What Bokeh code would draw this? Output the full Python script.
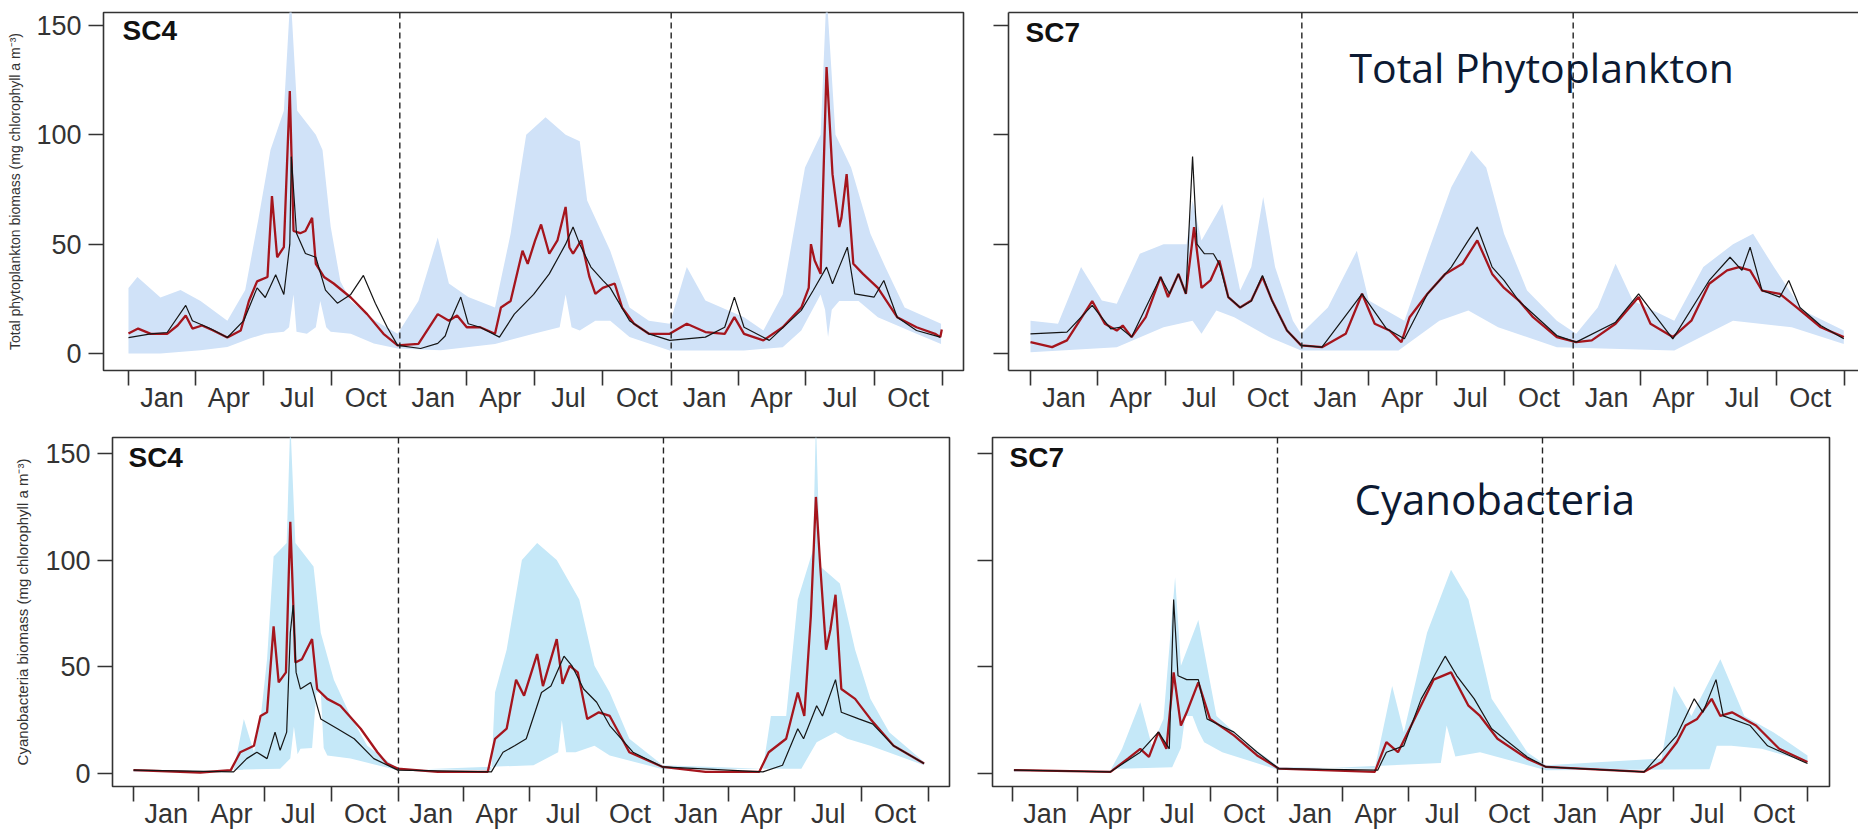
from bokeh.plotting import figure
from bokeh.models import Range1d, FixedTicker, Span, Label, LinearAxis
from bokeh.layouts import column, row
from bokeh.embed import file_html
from bokeh.resources import INLINE

# ---------------- axis definitions ----------------
month_labels = ["Jan", "Apr", "Jul", "Oct"]
quarter_start_days = [0, 90, 181, 273]
quarter_mid_days = [45, 135, 227, 319]
n_years = 3
year_len = 365
year_bounds = [365, 730]
y_ticks = [0, 50, 100, 150]

# ---------------- SC4 total phytoplankton ----------------
sc4_tot_red_day = [0, 13, 30, 52, 66, 77, 86, 99, 114, 133, 151, 162, 173, 187, 193, 200, 209, 217, 222, 231, 238, 247, 252, 263, 276, 299, 321, 343, 362, 390, 416, 431, 442, 455, 473, 493, 501, 514, 530, 537, 547, 555, 566, 577, 588, 593, 598, 609, 620, 628, 638, 654, 664, 680, 700, 728, 751, 776, 802, 815, 828, 854, 880, 905, 915, 918, 923, 931, 939, 947, 956, 959, 966, 975, 988, 1008, 1034, 1060, 1085, 1092, 1094]
sc4_tot_red_val = [9.1, 11.4, 9, 9, 12.8, 17.4, 11.4, 12.8, 10.5, 7.3, 10.5, 24, 33, 35, 72, 44, 48.6, 120, 56, 55, 56, 62, 41, 35, 32, 25.6, 18, 9, 3.7, 4.4, 18, 15, 17.4, 12, 12, 9, 21, 24, 47, 41, 51.7, 59, 45.6, 51.7, 67, 48.6, 45.6, 51.7, 35, 27.3, 30, 32, 21, 13.6, 9, 9, 13.6, 9.8, 9, 16.6, 9, 6, 12, 21, 30, 50, 42.5, 36.4, 131, 82, 57.8, 62, 82, 41, 36.4, 30, 16.6, 12, 9, 7.5, 11]
sc4_tot_blk_day = [0, 30, 52, 77, 86, 110, 133, 155, 173, 184, 198, 209, 217, 219, 226, 238, 252, 265, 281, 299, 316, 332, 348, 362, 393, 416, 426, 433, 447, 457, 473, 499, 519, 545, 566, 588, 598, 607, 622, 638, 648, 674, 700, 728, 776, 802, 815, 828, 862, 905, 921, 939, 947, 956, 967, 977, 1003, 1016, 1034, 1060, 1092]
sc4_tot_blk_val = [7.3, 9, 9.6, 22, 15, 11.4, 7.3, 15, 30, 25.6, 36, 27, 50, 90, 55, 45.7, 44, 29, 23, 27, 35.7, 23, 12, 3.7, 2.3, 4.6, 8, 15, 25.8, 13.6, 12, 7.5, 18, 27, 36.4, 50, 57.8, 50, 39.5, 33.4, 30, 15, 9, 6, 7.5, 12, 25.8, 12, 6, 19.7, 28.8, 39.5, 31.9, 39.5, 48.6, 27.3, 25.8, 33.4, 16.6, 10.5, 7.5]
sc4_tot_hi_day = [0, 12, 43, 70, 97, 133, 157, 175, 191, 209, 218, 227, 252, 261, 272, 285, 299, 332, 362, 390, 416, 431, 457, 493, 514, 535, 561, 588, 607, 617, 648, 674, 700, 728, 751, 776, 828, 854, 880, 910, 931, 939, 951, 972, 998, 1018, 1044, 1093]
sc4_tot_hi_val = [30, 35, 25.6, 29, 24, 15, 29, 62, 93, 111, 165, 111, 100, 93, 58, 33, 24, 15, 9, 24, 53, 32, 25.8, 21, 54.7, 100, 108, 100, 97, 70, 47, 21, 15, 13.6, 39.5, 24.2, 16.6, 10.5, 27, 85, 100, 165, 100, 85, 54.7, 39.5, 21, 13.6]
sc4_tot_lo_day = [0, 43, 97, 133, 164, 184, 209, 216, 222, 226, 240, 252, 258, 266, 272, 299, 330, 362, 420, 493, 545, 580, 588, 596, 607, 628, 648, 674, 728, 828, 880, 905, 931, 937, 941, 946, 956, 982, 1008, 1060, 1093]
sc4_tot_lo_val = [0, 0, 1.5, 3, 7, 9, 10, 12, 27, 10, 9, 12, 24, 12, 10, 9, 4.6, 2.3, 1.5, 4.4, 9, 12, 27, 12, 10.5, 15, 15, 7.5, 1.4, 1.4, 2.9, 10.5, 27, 20, 7.5, 20, 24, 24, 16.6, 9, 4.4]

# ---------------- SC7 total phytoplankton ----------------
sc7_tot_red_day = [0, 29, 49, 83, 100, 116, 124, 136, 155, 175, 185, 199, 209, 220, 230, 242, 254, 266, 282, 297, 312, 325, 345, 364, 392, 424, 446, 463, 483, 499, 510, 534, 558, 581, 601, 621, 637, 657, 676, 708, 734, 755, 787, 818, 834, 864, 889, 913, 937, 953, 968, 984, 1008, 1031, 1063, 1094]
sc7_tot_red_val = [5.2, 2.9, 6, 24, 13.6, 10.5, 12.8, 7.5, 16.6, 35, 25.8, 36.4, 27.3, 57.8, 30, 33.4, 42.5, 25.8, 21, 24.2, 35, 24.2, 10.5, 3.7, 2.9, 9, 27.3, 13.6, 10.5, 5.2, 16.6, 27.3, 36.4, 41, 51.7, 36.4, 30, 24.2, 16.6, 7.5, 5.2, 6, 13.6, 25.8, 13.6, 7.5, 15, 31.9, 38, 39.5, 38, 28.8, 27.3, 21, 12, 7.5]
sc7_tot_blk_day = [0, 49, 83, 108, 120, 136, 175, 187, 199, 209, 218, 224, 234, 246, 254, 266, 282, 297, 312, 325, 345, 364, 392, 446, 479, 503, 534, 566, 589, 601, 621, 637, 657, 708, 734, 787, 818, 864, 913, 941, 957, 968, 984, 1008, 1020, 1035, 1063, 1094]
sc7_tot_blk_val = [9, 9.8, 22, 11.3, 12, 7.5, 35, 27.3, 36.4, 27.3, 90, 50, 45.6, 45.6, 41, 25.8, 21, 24, 35.7, 24, 10.5, 3.7, 2.9, 27.3, 11.3, 6.7, 27.3, 39.5, 51.7, 57.8, 39.5, 33.4, 24, 8.2, 5.2, 14.3, 27.3, 6.7, 33.4, 44, 38, 48.6, 28.8, 25.8, 33.4, 21, 12.8, 6.7]
sc7_tot_hi_day = [0, 37, 68, 96, 116, 147, 179, 210, 218, 230, 258, 282, 297, 313, 329, 353, 364, 400, 439, 455, 503, 534, 566, 593, 613, 637, 668, 708, 734, 763, 787, 810, 866, 905, 945, 972, 1000, 1039, 1094]
sc7_tot_hi_val = [15, 13.6, 39.5, 24.2, 22.7, 45.6, 50, 50, 70, 51.7, 68.4, 28.8, 39.5, 71.5, 39.5, 15, 9, 21, 47, 24.2, 15, 45.6, 76, 92.8, 85, 54.7, 28.8, 15, 9, 21, 41, 24.2, 15, 39.5, 50, 54.7, 39.5, 19.7, 10.5]
sc7_tot_lo_day = [0, 116, 179, 218, 230, 250, 274, 321, 364, 495, 550, 589, 629, 708, 866, 945, 1024, 1094]
sc7_tot_lo_val = [0.6, 2.9, 12, 15, 9, 19.7, 16.6, 7.5, 1.4, 1.4, 15, 19.7, 12, 2.9, 1.4, 15, 12, 4.4]

# ---------------- SC4 cyanobacteria ----------------
sc4_cya_red_day = [0, 92, 134, 147, 166, 175, 184, 193, 200, 210, 216, 223, 232, 246, 253, 267, 285, 313, 336, 349, 364, 419, 488, 498, 514, 527, 538, 556, 564, 583, 591, 601, 612, 625, 641, 656, 683, 729, 788, 862, 875, 899, 915, 924, 933, 940, 946, 954, 960, 967, 975, 994, 1015, 1047, 1089]
sc4_cya_red_val = [1.6, 0.5, 1.6, 10, 13, 27, 28.7, 69, 42.7, 47.4, 118, 52, 53.6, 63, 39.6, 35, 31.8, 21, 10, 4.7, 2.3, 0.8, 0.8, 16.3, 21, 44, 36.5, 56, 41, 63, 42, 50.5, 47.4, 25.6, 28.7, 27, 10, 3.1, 0.8, 0.8, 10, 16.3, 38, 27, 73.7, 129.6, 97, 58, 67.5, 83.8, 39.6, 35, 25.6, 13, 4.7]
sc4_cya_blk_day = [0, 138, 156, 170, 184, 195, 202, 211, 216, 220, 224, 230, 244, 258, 281, 304, 331, 364, 493, 509, 525, 541, 562, 575, 593, 604, 620, 638, 656, 688, 729, 867, 894, 915, 923, 941, 949, 967, 975, 999, 1018, 1047, 1089]
sc4_cya_blk_val = [1.6, 0.8, 7, 10, 7, 19.4, 10.9, 19.4, 66, 79, 47.4, 39.6, 42.7, 25.6, 21, 16.3, 7, 1.6, 0.8, 10, 13, 16.3, 38, 41, 55, 50.5, 39.6, 33.4, 22.5, 10, 3.1, 0.8, 3.9, 21, 16.3, 31.8, 27, 44, 28.7, 25.6, 23.3, 13, 4.7]
sc4_cya_hi_day = [0, 138, 143, 152, 166, 175, 184, 193, 211, 216, 223, 248, 258, 276, 299, 322, 364, 493, 498, 514, 535, 556, 583, 614, 635, 656, 683, 729, 867, 878, 899, 915, 936, 940, 946, 973, 994, 1015, 1041, 1089]
sc4_cya_hi_val = [1.6, 1.6, 10, 25.6, 10, 25.6, 53.6, 101.7, 108, 165, 108, 97, 66, 44, 27, 13, 2.3, 1.6, 38, 58, 100, 108, 100, 81.5, 50.5, 38, 16.3, 3.9, 2.3, 27, 27, 81.5, 104.8, 165, 97, 89, 58, 35, 19.4, 5.4]
sc4_cya_lo_day = [0, 202, 216, 221, 226, 230, 246, 252, 258, 262, 267, 299, 364, 551, 585, 590, 596, 609, 635, 656, 729, 920, 941, 967, 983, 1015, 1089]
sc4_cya_lo_val = [0.8, 2.3, 7, 22, 9, 11.6, 12, 38, 38, 12, 8.5, 7, 1.6, 3.9, 10, 25, 10, 10, 13, 8.5, 2, 2.3, 14.7, 19.4, 16.3, 13, 3.9]

# ---------------- SC7 cyanobacteria ----------------
sc7_cya_red_day = [2, 135, 159, 176, 188, 201, 212, 222, 232, 240, 256, 272, 305, 337, 367, 499, 515, 531, 547, 580, 604, 628, 644, 668, 709, 735, 870, 894, 915, 927, 943, 963, 975, 991, 1024, 1056, 1095]
sc7_cya_red_val = [1.6, 0.8, 7, 11.6, 7.8, 19.4, 11.6, 47.4, 22.5, 28.7, 42.7, 25.6, 17.9, 8.5, 2.3, 0.8, 14.7, 10, 21, 44, 47.4, 31.8, 27, 16.3, 7, 3.1, 0.8, 5.4, 14.7, 22.5, 25.6, 35, 27, 28.7, 22.5, 11.6, 5.4]
sc7_cya_blk_day = [2, 135, 176, 201, 216, 222, 228, 240, 256, 268, 305, 337, 367, 503, 515, 539, 563, 596, 612, 636, 660, 709, 735, 870, 915, 939, 951, 969, 979, 1016, 1040, 1095]
sc7_cya_blk_val = [1.6, 0.8, 10, 19.4, 11.6, 81.5, 45.8, 44, 44, 25.6, 19.4, 10, 2.3, 1.6, 10, 13, 35, 55, 45.8, 35, 21, 7.8, 3.1, 0.8, 17.9, 35, 28.7, 44, 27, 22.5, 13, 4.7]
sc7_cya_hi_day = [2, 135, 151, 176, 192, 208, 224, 232, 256, 281, 321, 367, 499, 523, 539, 571, 604, 628, 660, 709, 735, 894, 911, 935, 975, 1008, 1048, 1095]
sc7_cya_hi_val = [1.6, 1.6, 11.6, 33.4, 13, 25.6, 92, 50.5, 72, 27, 14.7, 3.1, 2.3, 41, 19.4, 66, 95.5, 81.5, 35, 10, 3.9, 7, 41, 27, 53.6, 27, 19.4, 8.5]
sc7_cya_lo_day = [2, 220, 232, 238, 248, 256, 264, 289, 367, 590, 598, 610, 644, 735, 960, 970, 990, 1032, 1095]
sc7_cya_lo_val = [0.8, 3, 12, 27, 27, 20, 14.7, 10, 1.6, 5, 22.5, 8, 10, 1.6, 2, 13, 13, 11.6, 5.4]

# ---------------- styling ----------------
FONT = "Liberation Sans"
RED = "#a5151d"
BLACK = "#151515"
BAND_TOP = "#d0e2f8"
BAND_BOT = "#c5e8f8"
AX = "#333333"
TICK_FONT = "27px"

quarter_ticks = [y * year_len + d for y in range(n_years) for d in quarter_start_days] + [n_years * year_len]
label_ticks = [y * year_len + d for y in range(n_years) for d in quarter_mid_days]
label_map = {t: month_labels[i % 4] for i, t in enumerate(label_ticks)}


def make_panel(width, height, borders, xr, yr, band, red, blk, band_color,
               show_ylab, ylabel=None, ylabel_size="14px", ylabel_standoff=10,
               outline=True):
    bl, br, bt, bb = borders
    p = figure(width=width, height=height, x_range=Range1d(*xr), y_range=Range1d(*yr),
               output_backend="svg", toolbar_location=None,
               min_border_left=bl, min_border_right=br, min_border_top=bt, min_border_bottom=bb)
    p.grid.visible = False
    p.background_fill_color = "white"
    p.border_fill_color = "white"
    if outline:
        p.outline_line_color = AX
        p.outline_line_width = 1.6
    else:
        p.outline_line_color = None

    # uncertainty band
    hx, hy, lx, ly = band
    p.patch(list(hx) + list(lx)[::-1], list(hy) + list(ly)[::-1],
            fill_color=band_color, line_color=None)
    # lines
    p.line(red[0], red[1], line_color=RED, line_width=2.3)
    p.line(blk[0], blk[1], line_color=BLACK, line_width=1.2)

    for b in year_bounds:
        p.add_layout(Span(location=b, dimension="height", line_color="#222222",
                          line_dash="6 4", line_width=1.4))

    xa = p.xaxis[0]
    xa.ticker = FixedTicker(ticks=label_ticks, minor_ticks=quarter_ticks)
    xa.major_label_overrides = label_map
    xa.major_tick_line_color = None
    xa.major_tick_out = 15
    xa.major_tick_in = 0
    xa.minor_tick_out = 15
    xa.minor_tick_in = 0
    xa.minor_tick_line_color = AX
    xa.minor_tick_line_width = 1.6
    xa.axis_line_color = None if outline else AX
    xa.axis_line_width = 1.6
    xa.major_label_text_font = FONT
    xa.major_label_text_font_size = TICK_FONT
    xa.major_label_text_color = "#333333"
    xa.major_label_standoff = -3

    ya = p.yaxis[0]
    ya.ticker = FixedTicker(ticks=y_ticks, minor_ticks=[])
    ya.major_tick_out = 15
    ya.major_tick_in = 0
    ya.major_tick_line_color = AX
    ya.major_tick_line_width = 1.6
    ya.minor_tick_line_color = None
    ya.axis_line_color = None if outline else AX
    ya.axis_line_width = 1.6
    ya.major_label_text_font = FONT
    ya.major_label_text_font_size = TICK_FONT
    ya.major_label_text_color = "#333333"
    ya.major_label_standoff = 7
    if not show_ylab:
        ya.major_label_overrides = {t: "" for t in y_ticks}
    if ylabel:
        ya.axis_label = ylabel
        ya.axis_label_text_font = FONT
        ya.axis_label_text_font_size = ylabel_size
        ya.axis_label_text_font_style = "normal"
        ya.axis_label_text_color = "#333333"
        ya.axis_label_standoff = ylabel_standoff

    if not outline:
        top = LinearAxis(ticker=FixedTicker(ticks=[], minor_ticks=[]),
                         axis_line_color=AX, axis_line_width=1.6,
                         major_tick_line_color=None, minor_tick_line_color=None,
                         major_tick_out=0, major_tick_in=0, minor_tick_out=0,
                         major_label_standoff=0, major_label_text_font_size="0px")
        p.add_layout(top, "above")
    return p


def add_label(p, x, y, text, size="28px", bold=True, font=FONT, color="#111111"):
    p.add_layout(Label(x=x, y=y, text=text, text_font=font, text_font_size=size,
                       text_font_style="bold" if bold else "normal",
                       text_color=color, text_baseline="middle", text_align="left"))


# top row (frame y 12..370)
p1 = make_panel(985, 429, (103, 22, 12, 59), (-33.6, 1123.2), (-7.77, 155.9),
                (sc4_tot_hi_day, sc4_tot_hi_val, sc4_tot_lo_day, sc4_tot_lo_val),
                (sc4_tot_red_day, sc4_tot_red_val), (sc4_tot_blk_day, sc4_tot_blk_val),
                BAND_TOP, True, "Total phytoplankton biomass (mg chlorophyll a m\u207b\u00b3)",
                "14px", 10)
add_label(p1, -8, 147.7, "SC4")

p2 = make_panel(873, 429, (23, 0, 12, 59), (-29.6, 1113.8), (-7.77, 155.9),
                (sc7_tot_hi_day, sc7_tot_hi_val, sc7_tot_lo_day, sc7_tot_lo_val),
                (sc7_tot_red_day, sc7_tot_red_val), (sc7_tot_blk_day, sc7_tot_blk_val),
                BAND_TOP, False, outline=False)
add_label(p2, -6.7, 146.8, "SC7")
add_label(p2, 429, 130.8, "Total Phytoplankton", size="41px", bold=False,
          font="Open Sans", color="#0c1a33")

# bottom row (frame y 437..788)
p3 = make_panel(970, 402, (112, 21, 8, 43), (-28.9, 1124.0), (-6.06, 157.45),
                (sc4_cya_hi_day, sc4_cya_hi_val, sc4_cya_lo_day, sc4_cya_lo_val),
                (sc4_cya_red_day, sc4_cya_red_val), (sc4_cya_blk_day, sc4_cya_blk_val),
                BAND_BOT, True, "Cyanobacteria biomass (mg chlorophyll a m\u207b\u00b3)",
                "15px", 11)
add_label(p3, -6.9, 148.1, "SC4")

p4 = make_panel(888, 402, (22, 29, 8, 43), (-27.5, 1125.3), (-6.06, 157.45),
                (sc7_cya_hi_day, sc7_cya_hi_val, sc7_cya_lo_day, sc7_cya_lo_val),
                (sc7_cya_red_day, sc7_cya_red_val), (sc7_cya_blk_day, sc7_cya_blk_val),
                BAND_BOT, False)
add_label(p4, -4.1, 148.1, "SC7")
add_label(p4, 471, 129, "Cyanobacteria", size="42px", bold=False,
          font="Open Sans", color="#0c1a33")

layout = column(row(p1, p2, spacing=0), row(p3, p4, spacing=0), spacing=0)

open("out.html", "w").write(file_html(layout, INLINE))
